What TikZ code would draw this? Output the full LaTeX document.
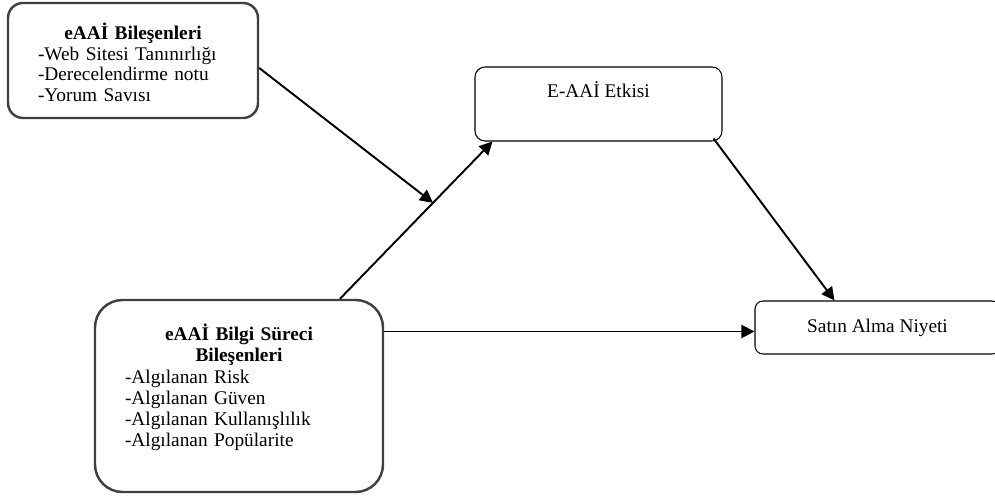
\documentclass[tikz,border=0pt]{standalone}
\usepackage{fontspec}
\setmainfont{Liberation Serif}
\usetikzlibrary{arrows.meta,positioning}

\begin{document}
\begin{tikzpicture}[
    kalinkutu/.style={draw=black!75, line width=1.4pt},
    incekutu/.style={draw=black, line width=0.6pt},
    yazi/.style={inner sep=0pt, font=\fontsize{11}{11.7}\selectfont},
    ok/.style={line width=1.1pt, -{Triangle[length=2.6mm,width=2.6mm]}}
]
\useasboundingbox (0,0) rectangle (19.9,9.94);

\node[kalinkutu, rounded corners=0.3cm, minimum width=5cm, minimum height=2.3cm] (bilesen) at (2.66,8.73) {};
\node[kalinkutu, rounded corners=0.55cm, minimum width=5.76cm, minimum height=3.84cm] (bilgi) at (4.78,2.02) {};
\node[incekutu, rounded corners=0.2cm, minimum width=4.94cm, minimum height=1.48cm] (etki) at (11.97,7.86) {};
\node[incekutu, rounded corners=0.16cm, minimum width=4.9cm, minimum height=1.06cm, yazi] (niyet) at (17.55,3.39) {Satın Alma Niyeti};

\node[yazi, text width=3.8cm, align=left, below=0.42cm of bilesen.north] (bilesenyazi) {{\centering\textbf{eAAİ Bileşenleri}\par}-Web Sitesi Tanınırlığı\\-Derecelendirme notu\\-Yorum Savısı};
\node[yazi, below=0.3cm of etki.north] (etkiyazi) {E-AAİ Etkisi};
\node[yazi, font=\fontsize{11}{12.1}\selectfont, text width=4.56cm, align=left, below=0.5cm of bilgi.north] (bilgiyazi) {{\centering\textbf{eAAİ Bilgi Süreci\\Bileşenleri}\par}-Algılanan Risk\\-Algılanan Güven\\-Algılanan Kullanışlılık\\-Algılanan Popülarite};

% oklar
\path ([xshift=2.02cm]bilgi.north) -- ([xshift=0.36cm]etki.south west) coordinate[pos=0.61] (kesisim);
\coordinate (niyetgiris) at ([yshift=-0.08cm]niyet.west);
\draw[ok] ([xshift=2.02cm]bilgi.north) -- ([xshift=0.36cm]etki.south west);
\draw[ok] ([yshift=-0.15cm]bilesen.east) -- (kesisim);
\draw[ok] (bilgi.east |- niyetgiris) -- (niyetgiris);
\draw[ok] ([xshift=-0.18cm,yshift=0.06cm]etki.south east) -- ([xshift=1.6cm]niyet.north west);
\end{tikzpicture}
\end{document}
